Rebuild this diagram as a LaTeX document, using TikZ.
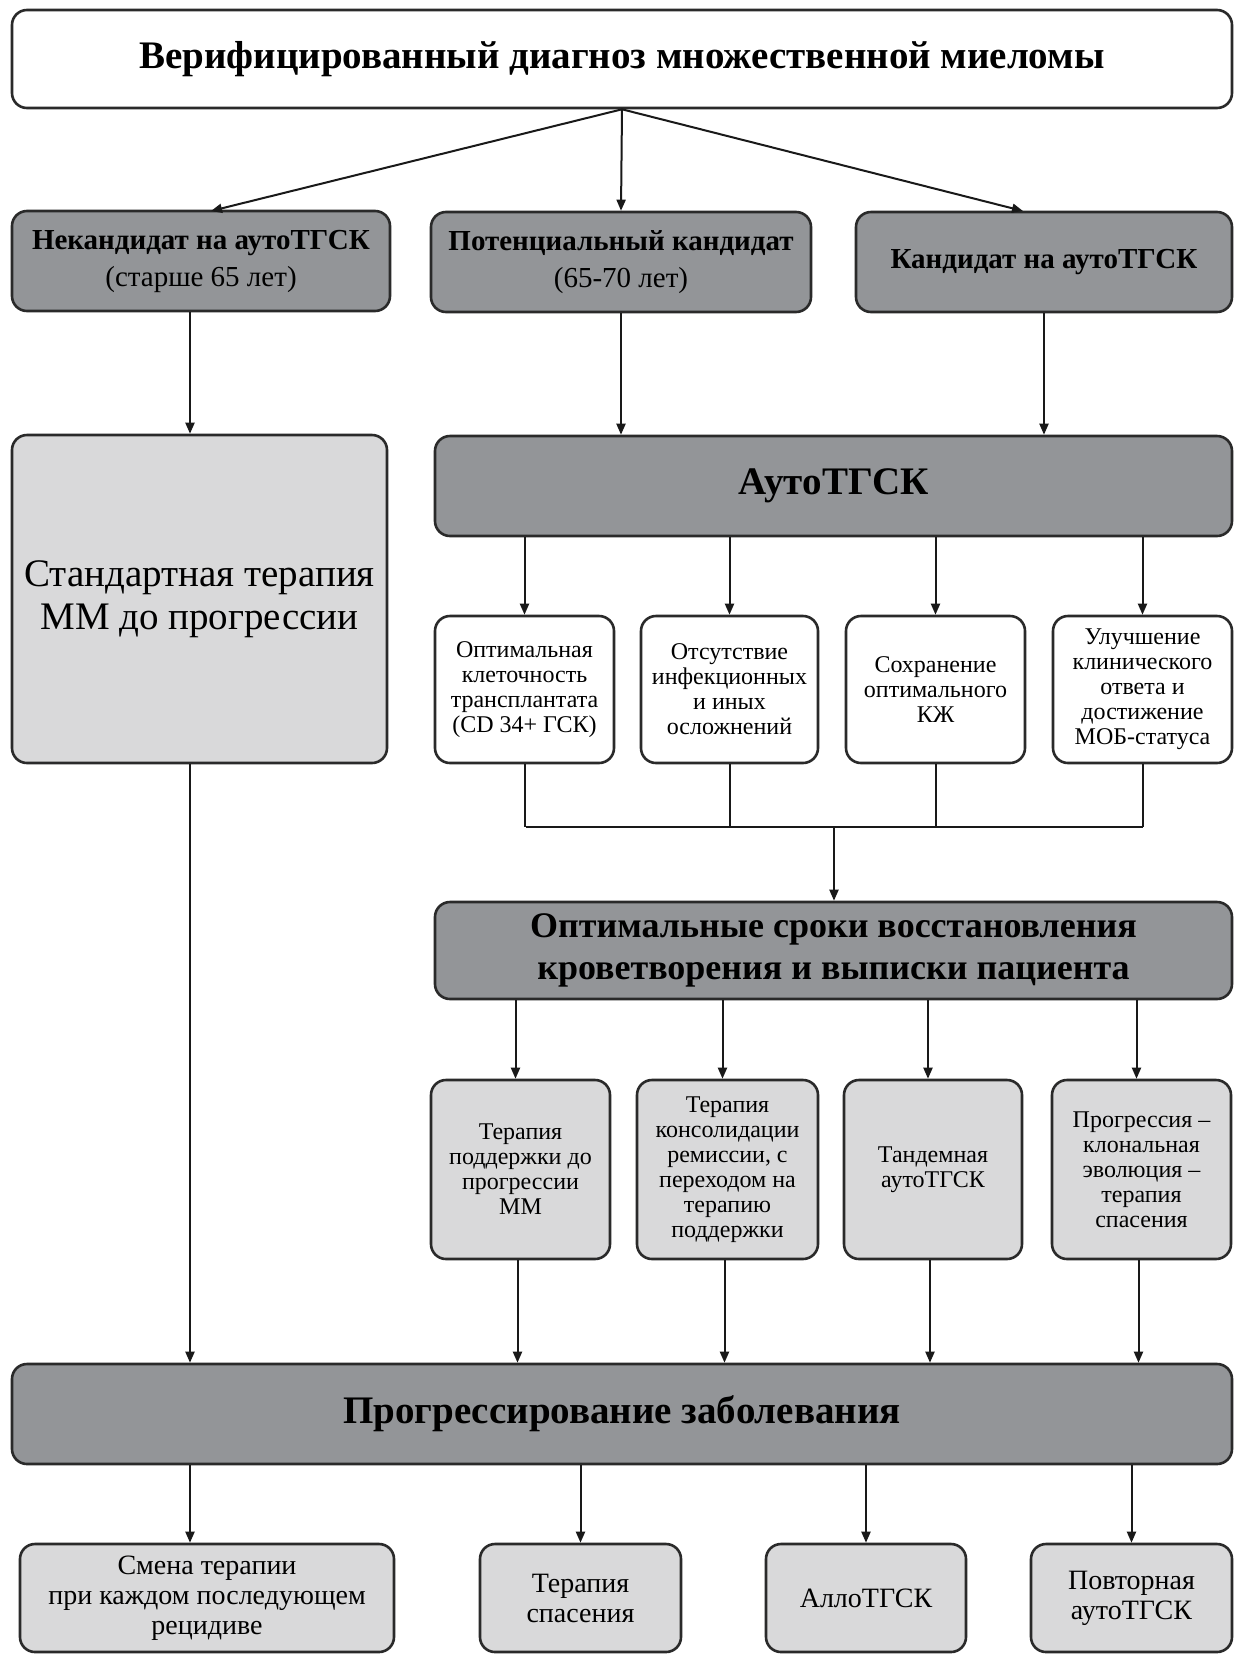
\documentclass[tikz,border=0pt]{standalone}
\usepackage{fontspec}
\setmainfont{Liberation Serif}
\newfontfamily\tms{Liberation Serif}
\usetikzlibrary{arrows.meta,calc}
\definecolor{dkg}{HTML}{939598}
\definecolor{ltg}{HTML}{D9D9DA}
\definecolor{edge}{HTML}{2A2A2A}
\newcommand{\fs}[2]{\tms\fontsize{#1}{#2}\selectfont}
\tikzset{
  bx/.style={draw=edge,line width=2.6pt,rounded corners=15pt,align=center,inner sep=2pt},
  wbox/.style={bx,fill=white},
  dbox/.style={bx,fill=dkg},
  lbox/.style={bx,fill=ltg},
  arr/.style={draw=black!90,line width=2pt,-{Triangle[length=11pt,width=9pt]}},
  ln/.style={draw=black!90,line width=2pt},
  fB/.style={font=\fs{24}{25}},
  fC/.style={font=\fs{24}{25}},
  fD/.style={font=\fs{28}{30}},
  fR/.style={font=\fs{29}{37}},
}
\begin{document}
\begin{tikzpicture}[x=1pt,y=-1pt]
\useasboundingbox (0,0) rectangle (1234,1655);
\fill[white] (0,0) rectangle (1234,1655);
% nodes
\node[wbox,minimum width=1220pt,minimum height=98pt,font=\fs{39}{44}\bfseries] (top) at (622,59)
  {Верифицированный диагноз множественной миеломы};
\node[dbox,fR,minimum width=378pt,minimum height=100pt] (n1) at (201,261)
  {\textbf{Некандидат на аутоТГСК}\\(старше 65 лет)};
\node[dbox,fR,minimum width=380pt,minimum height=100pt] (n2) at (621,262)
  {\textbf{Потенциальный кандидат}\\(65-70 лет)};
\node[dbox,fR,minimum width=376pt,minimum height=100pt] (n3) at (1044,262)
  {\textbf{Кандидат на аутоТГСК}};
\node[lbox,minimum width=375pt,minimum height=328pt,font=\fs{39}{43}] (std) at (199.5,599)
  {Стандартная терапия\\ММ до прогрессии};
\node[dbox,minimum width=797pt,minimum height=100pt,font=\fs{39}{44}\bfseries] (auto) at (833.5,486)
  {АутоТГСК};
\node[wbox,fB,minimum width=179pt,minimum height=147pt] (b1) at (524.5,689.5)
  {Оптимальная\\клеточность\\трансплантата\\(CD 34+ ГСК)};
\node[wbox,fB,minimum width=177pt,minimum height=147pt] (b2) at (729.5,689.5)
  {Отсутствие\\инфекционных\\и иных\\осложнений};
\node[wbox,fB,minimum width=179pt,minimum height=147pt] (b3) at (935.5,689.5)
  {Сохранение\\оптимального\\КЖ};
\node[wbox,fB,minimum width=179pt,minimum height=147pt] (b4) at (1142.5,689.5)
  {Улучшение\\клинического\\ответа и\\достижение\\МОБ-статуса};
\node[dbox,minimum width=797pt,minimum height=97pt,font=\fs{36}{42}\bfseries] (opt) at (833.5,950.5)
  {Оптимальные сроки восстановления\\кроветворения и выписки пациента};
\node[lbox,fC,minimum width=179pt,minimum height=179pt] (c1) at (520.5,1169.5)
  {Терапия\\поддержки до\\прогрессии\\ММ};
\node[lbox,fC,minimum width=181pt,minimum height=179pt] (c2) at (727.5,1169.5)
  {Терапия\\консолидации\\ремиссии, с\\переходом на\\терапию\\поддержки};
\node[lbox,fC,minimum width=178pt,minimum height=179pt] (c3) at (933,1169.5)
  {Тандемная\\аутоТГСК};
\node[lbox,fC,minimum width=179pt,minimum height=179pt] (c4) at (1141.5,1169.5)
  {Прогрессия –\\клональная\\эволюция –\\терапия\\спасения};
\node[dbox,minimum width=1220pt,minimum height=100pt,font=\fs{39}{44}\bfseries] (prog) at (622,1414)
  {Прогрессирование заболевания};
\node[lbox,fD,minimum width=374pt,minimum height=108pt] (d1) at (207,1598)
  {Смена терапии\\при каждом последующем\\рецидиве};
\node[lbox,fD,minimum width=201pt,minimum height=108pt] (d2) at (580.5,1598)
  {Терапия\\спасения};
\node[lbox,fD,minimum width=200pt,minimum height=108pt] (d3) at (866,1598)
  {АллоТГСК};
\node[lbox,fD,minimum width=201pt,minimum height=108pt] (d4) at (1131.5,1598)
  {Повторная\\аутоТГСК};
% helper coordinates
\coordinate (lc) at (190,0);
\coordinate (n1in) at (211,211);
\coordinate (n3in) at (1023,211);
\coordinate (jl) at (526,827);
\coordinate (jm) at (834,827);
\coordinate (jr) at (1143,827);
% connectors
\draw[arr] (top.south) -- (n1in);
\draw[arr] (top.south) -- (n2.north);
\draw[arr] (top.south) -- (n3in);
\draw[arr] (n1.south -| lc) -- (std.north -| lc);
\draw[arr] (n2.south) -- (auto.north -| n2.south);
\draw[arr] (n3.south) -- (auto.north -| n3.south);
\foreach \b in {b1,b2,b3,b4}{
  \draw[arr] (auto.south -| \b.north) -- (\b.north);
  \draw[ln] (\b.south) -- (jm -| \b.south);
}
\draw[ln] (jl) -- (jr);
\draw[arr] (jm) -- (opt.north -| jm);
\foreach \c in {c1,c2,c3,c4}{
  \draw[arr] ($(opt.south -| \c.north)+(-5,0)$) -- ($(\c.north)+(-5,0)$);
  \draw[arr] ($(\c.south)+(-3,0)$) -- ($(prog.north -| \c.south)+(-3,0)$);
}
\draw[arr] (std.south -| lc) -- (prog.north -| lc);
\draw[arr] (prog.south -| lc) -- (d1.north -| lc);
\draw[arr] (prog.south -| d2.north) -- (d2.north);
\draw[arr] (prog.south -| d3.north) -- (d3.north);
\draw[arr] (prog.south -| d4.north) -- (d4.north);
\end{tikzpicture}
\end{document}
